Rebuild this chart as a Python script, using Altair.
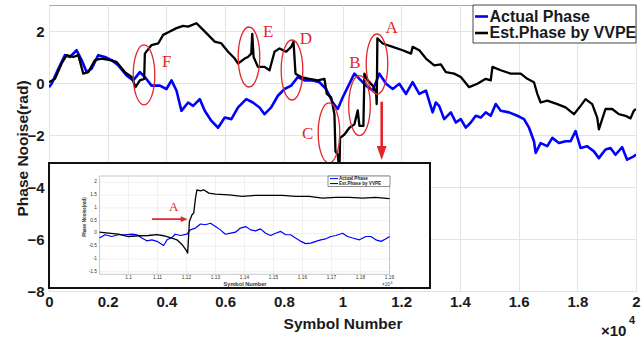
import altair as alt
import pandas as pd

# ---------------- data ----------------
series_names = ["Actual Phase", "Est.Phase by VVPE"]

blue_x = [0, 90, 318, 544, 714, 941, 1111, 1281, 1452, 1678,
          1905, 2132, 2359, 2642, 2869, 3096, 3266, 3493, 3776, 4003,
          4173, 4343, 4513, 4740, 4910, 5137, 5307, 5534, 5761, 5988,
          6214, 6441, 6721, 6948, 7174, 7344, 7571, 7798, 8025, 8252,
          8478, 8705, 8988, 9215, 9442, 9669, 9839, 10009, 10179, 10406,
          10576, 10803, 11030, 11256, 11483, 11710, 11937, 12164, 12390, 12617,
          12844, 13071, 13180, 13294, 13464, 13691, 13861, 14031, 14201, 14371,
          14541, 14711, 14881, 15051, 15221, 15391, 15675, 15958, 16185, 16355,
          16524, 16581, 16751, 16978, 17148, 17374, 17601, 17771, 17941, 18112,
          18338, 18565, 18735, 18961, 19131, 19301, 19528, 19698, 19925, 20000]
blue_y = [-0.16, -0.03, 0.55, 1.07, 1.0, 1.26, 0.88, 0.42, 0.55, 1.07,
          1.0, 0.88, 0.68, 0.29, 0.10, 0.42, 0.23, -0.10, -0.10, -0.23,
          0.10, -0.29, -1.07, -0.75, -0.88, -0.62, -1.07, -1.46, -1.72, -1.33,
          -1.39, -0.94, -0.62, -0.75, -0.94, -1.20, -0.94, -0.49, -0.23, -0.10,
          0.23, 0.10, 0.10, 0.03, -0.23, -0.75, -1.0, -0.55, -0.16, 0.36,
          0.16, -0.10, -0.29, 0.36, -0.03, -0.23, -0.03, -0.42, 0.03, -0.42,
          -0.29, -1.13, -0.75, -0.88, -1.39, -1.13, -1.52, -1.39, -1.72, -1.52,
          -1.26, -1.33, -1.13, -1.26, -0.81, -1.07, -1.13, -1.26, -1.39, -1.72,
          -2.24, -2.69, -2.31, -2.43, -2.11, -2.31, -2.24, -2.24, -1.85, -2.50,
          -2.43, -2.63, -2.89, -2.56, -2.50, -2.76, -2.47, -2.95, -2.82, -2.75]

black_x = [0, 204, 431, 601, 828, 998, 1168, 1338, 1565, 1792,
           2075, 2302, 2586, 2812, 2948, 3096, 3243, 3266, 3493, 3720,
           3890, 4117, 4343, 4570, 4740, 5024, 5194, 5420, 5647, 5874,
           6101, 6328, 6441, 6668, 6778, 6891, 6925, 6971, 7118, 7344,
           7514, 7684, 7854, 8081, 8252, 8331, 8399, 8592, 8875, 9158,
           9385, 9464, 9612, 9725, 9760, 9839, 9896, 9918, 10066, 10236,
           10406, 10519, 10576, 10712, 10746, 10860, 11030, 11143, 11166, 11188,
           11370, 11710, 12050, 12333, 12390, 12617, 12844, 13128, 13351, 13521,
           13804, 14031, 14314, 14597, 14881, 15051, 15108, 15391, 15731, 16071,
           16298, 16524, 16638, 16751, 16978, 17318, 17601, 17885, 18112, 18282,
           18508, 18678, 18735, 18848, 18961, 19188, 19415, 19642, 19812, 19925,
           20000]
black_y = [0.03, 0.16, 0.75, 1.07, 1.0, 1.07, 0.36, 0.42, 0.88, 0.94,
           0.88, 0.81, 0.42, 0.23, -0.16, 0.10, 0.16, 1.13, 1.46, 1.52,
           1.85, 1.98, 2.11, 2.20, 2.17, 2.30, 2.11, 1.85, 1.59, 1.52,
           1.20, 0.94, 0.75, 0.94, 1.0, 1.13, 1.89, 1.0, 0.62, 0.62,
           0.49, 1.20, 1.33, 1.20, 1.39, 1.59, 0.36, 0.23, 0.16, 0.10,
           0.16, -0.42, -0.55, -1.20, -2.63, -2.76, -3.4, -2.11, -1.98, -1.72,
           -1.59, -1.05, -1.65, -1.65, 0.36, 0.10, -0.10, -0.36, -0.81, 1.72,
           1.52, 1.39, 1.26, 1.13, 1.39, 1.26, 0.94, 0.68, 0.72, 0.42,
           0.36, 0.23, -0.16, -0.03, 0.16, 0.10, 0.62, 0.49, 0.36, 0.36,
           0.16, 0.03, -0.42, -0.75, -0.68, -0.81, -0.94, -1.20, -0.88, -0.62,
           -0.81, -1.33, -1.78, -1.39, -1.0, -1.0, -1.20, -1.26, -1.36, -1.07,
           -1.0]

inset_blue_x = [10900, 10919, 10942, 10965, 10988, 11012, 11029, 11046, 11063, 11081,
                11098, 11121, 11133, 11150, 11161, 11179, 11202, 11213, 11231, 11248,
                11265, 11283, 11300, 11317, 11334, 11352, 11369, 11386, 11404, 11421,
                11438, 11455, 11473, 11490, 11507, 11525, 11542, 11559, 11576, 11594,
                11611, 11628, 11646, 11663, 11680, 11698, 11715, 11738, 11755, 11773,
                11796, 11819, 11836, 11853, 11871, 11888, 11900]
inset_blue_y = [-0.18, -0.05, -0.12, -0.05, -0.05, -0.03, -0.05, -0.18, -0.29, -0.25,
                -0.31, -0.47, -0.25, -0.16, -0.03, -0.08, -0.03, 0.14, 0.21, 0.37,
                0.34, 0.40, 0.27, 0.14, -0.03, 0.01, 0.05, 0.21, 0.27, 0.14,
                0.10, 0.18, 0.01, -0.08, 0.01, 0.08, -0.05, -0.05, -0.18, -0.31,
                -0.40, -0.38, -0.31, -0.25, -0.21, -0.12, -0.08, 0.01, -0.12, -0.18,
                -0.25, -0.12, -0.12, -0.25, -0.31, -0.21, -0.12]

inset_black_x = [10900, 10931, 10965, 11000, 11035, 11069, 11098, 11121, 11144, 11167,
                 11185, 11198, 11204, 11210, 11219, 11225, 11231, 11236, 11248, 11259,
                 11277, 11300, 11346, 11392, 11438, 11484, 11530, 11576, 11623, 11669,
                 11715, 11761, 11807, 11853, 11900]
inset_black_y = [0.05, 0.01, -0.03, -0.12, -0.09, -0.08, -0.05, -0.09, -0.16, -0.25,
                 -0.44, -0.64, -0.77, 0.47, 0.73, 0.80, 1.38, 1.71, 1.67, 1.71,
                 1.58, 1.54, 1.51, 1.45, 1.49, 1.49, 1.49, 1.45, 1.45, 1.38,
                 1.41, 1.41, 1.38, 1.41, 1.36]

x_ticks = [0, 2000, 4000, 6000, 8000, 10000, 12000, 14000, 16000, 18000, 20000]
y_ticks = [-8, -6, -4, -2, 0, 2]
inset_x_ticks = [11000, 11100, 11200, 11300, 11400, 11500, 11600, 11700, 11800, 11900]
inset_x_labels = ["1.1", "1.11", "1.12", "1.13", "1.14", "1.15", "1.16", "1.17", "1.18", "1.19"]
inset_y_ticks = [-1.5, -1.0, -0.5, 0.0, 0.5, 1.0, 1.5, 2.0]
inset_y_labels = ["-1.5", "-1", "-0.5", "0", "0.5", "1", "1.5", "2"]

mark_letters = ["A", "B", "C", "D", "E", "F"]
ellipse_x = [11175, 10579, 9540, 8279, 6814, 3237]
ellipse_y = [0.73, -0.87, -1.92, 0.50, 1.00, 0.31]
letter_x = [11676, 10425, 8814, 8756, 7471, 4010]
letter_y = [2.10, 0.78, -1.96, 1.68, 1.95, 0.82]

arrow_x = [11335]
arrow_top = [-0.72]
arrow_head = [-2.69]

inset_arrow_x = [11081]
inset_arrow_x2 = [11192]
inset_arrow_y = [0.56]
inset_letter = ["A"]
inset_letter_x = [11156]
inset_letter_y = [1.03]

# ---------------- styling ----------------
W, H = 587, 286
SANS = "Liberation Sans"
SERIF = "Liberation Serif"
RED = "#e3262b"
BLUE = "#0000ff"
TXT = "#1a1a1a"

one = pd.DataFrame({"a": [0]})

def sdf(xv, yv):
    return pd.DataFrame({"x": xv, "y": yv, "i": list(range(len(xv)))})

K = 0.5523
def ellipse_path(a):
    return (f"M 0 -1 C {a*K:.3f} -1 {a:.3f} {-K:.3f} {a:.3f} 0 "
            f"C {a:.3f} {K:.3f} {a*K:.3f} 1 0 1 "
            f"C {-a*K:.3f} 1 {-a:.3f} {K:.3f} {-a:.3f} 0 "
            f"C {-a:.3f} {-K:.3f} {-a*K:.3f} -1 0 -1 Z")

HEAD_DOWN = "M -0.7 -1 L 0.7 -1 L 0 1 Z"
HEAD_RIGHT = "M -1 -0.85 L -1 0.85 L 1 0 Z"

xs = alt.Scale(domain=[0, 20000], nice=False, zero=False)
ys = alt.Scale(domain=[-8, 3], nice=False, zero=False)

X_AXIS = alt.Axis(values=x_ticks, labelExpr="'' + datum.value / 10000", title="Symbol Number",
                  grid=True, gridColor="#e4e4e4", domain=False, ticks=False,
                  labelFont=SANS, labelFontSize=15, labelFontWeight="bold", labelColor=TXT,
                  labelPadding=3, labelFlush=False,
                  titleFont=SANS, titleFontSize=15.5, titleFontWeight="bold", titleColor=TXT,
                  titleBaseline="middle", titleX=W / 2, titleY=32)
Y_AXIS = alt.Axis(values=y_ticks, title="Phase Nooise(rad)",
                  grid=True, gridColor="#e4e4e4", domain=False, ticks=False,
                  labelFont=SANS, labelFontSize=15, labelFontWeight="bold", labelColor=TXT,
                  labelPadding=5, labelFlush=False,
                  titleFont=SANS, titleFontSize=15.5, titleFontWeight="bold", titleColor=TXT,
                  titleAngle=270, titleBaseline="middle", titleAlign="center",
                  titleX=-27, titleY=H / 2)

def mx(f="x"):
    return alt.X(f"{f}:Q", scale=xs, axis=X_AXIS)

def my(f="y"):
    return alt.Y(f"{f}:Q", scale=ys, axis=Y_AXIS)

# ---------------- main layers ----------------
blue_line = alt.Chart(sdf(blue_x, blue_y)).mark_line(
    color=BLUE, strokeWidth=2.6, clip=True, strokeJoin="round").encode(
    x=mx(), y=my(), order="i:Q")
black_line = alt.Chart(sdf(black_x, black_y)).mark_line(
    color="black", strokeWidth=2.3, clip=True, strokeJoin="round").encode(
    x=mx(), y=my(), order="i:Q")

ellipses = alt.Chart(pd.DataFrame({"x": ellipse_x, "y": ellipse_y})).mark_point(
    shape=ellipse_path(0.36), size=3600, filled=False, stroke=RED, strokeWidth=1.3,
    opacity=1).encode(x=mx(), y=my())
letters = alt.Chart(pd.DataFrame({"x": letter_x, "y": letter_y, "t": mark_letters})).mark_text(
    font=SERIF, fontSize=17, color=RED, baseline="middle").encode(x=mx(), y=my(), text="t:N")

arrow_shaft = alt.Chart(pd.DataFrame({"x": arrow_x, "y": arrow_top, "y2": arrow_head})).mark_rule(
    color=RED, strokeWidth=2.6).encode(x=mx(), y=my(), y2="y2:Q")
arrow_tip = alt.Chart(pd.DataFrame({"x": arrow_x, "y": arrow_head})).mark_point(
    shape=HEAD_DOWN, size=196, filled=True, color=RED, opacity=1).encode(x=mx(), y=my())

leg_box = alt.Chart(one).mark_rect(fill="white", stroke="#333333", strokeWidth=0.9).encode(
    x=alt.value(424), x2=alt.value(587), y=alt.value(0), y2=alt.value(38))
leg_b = alt.Chart(one).mark_rule(color=BLUE, strokeWidth=2.6).encode(
    x=alt.value(426), x2=alt.value(439), y=alt.value(11.5))
leg_k = alt.Chart(one).mark_rule(color="black", strokeWidth=2.6).encode(
    x=alt.value(426), x2=alt.value(439), y=alt.value(28))
leg_t1 = alt.Chart(one).mark_text(align="left", baseline="middle", font=SANS, fontSize=16,
                                  fontWeight="bold", color=TXT).encode(
    x=alt.value(440.5), y=alt.value(11.5), text=alt.value(series_names[0]))
leg_t2 = alt.Chart(one).mark_text(align="left", baseline="middle", font=SANS, fontSize=16,
                                  fontWeight="bold", color=TXT).encode(
    x=alt.value(440.5), y=alt.value(28), text=alt.value(series_names[1]))

exp_base = alt.Chart(one).mark_text(align="left", baseline="middle", font=SANS, fontSize=15,
                                    fontWeight="bold", color=TXT).encode(
    x=alt.value(552), y=alt.value(326), text=alt.value("×10"))
exp_sup = alt.Chart(one).mark_text(align="left", baseline="middle", font=SANS, fontSize=11,
                                   fontWeight="bold", color=TXT).encode(
    x=alt.value(580), y=alt.value(316), text=alt.value("4"))

main = alt.layer(blue_line, black_line, ellipses, letters, arrow_shaft, arrow_tip,
                 leg_box, leg_b, leg_k, leg_t1, leg_t2, exp_base, exp_sup)

# ---------------- inset layers ----------------
ixs = alt.Scale(domain=[10900, 11900], range=[50.5, 340.5], nice=False, zero=False)
iys = alt.Scale(domain=[-1.6, 2.25], range=[269.3, 171.0], nice=False, zero=False)

def ix(f="x"):
    return alt.X(f"{f}:Q", scale=ixs, axis=None)

def iy(f="y"):
    return alt.Y(f"{f}:Q", scale=iys, axis=None)

in_box = alt.Chart(one).mark_rect(fill="white", stroke="#111111", strokeWidth=2).encode(
    x=alt.value(0), x2=alt.value(381), y=alt.value(158), y2=alt.value(283))

in_xgrid = alt.Chart(pd.DataFrame({"x": inset_x_ticks, "y": -1.6, "y2": 2.25})).mark_rule(
    color="#e6e6e6", strokeWidth=0.6).encode(x=ix(), y=iy(), y2="y2:Q")
in_ygrid = alt.Chart(pd.DataFrame({"y": inset_y_ticks, "x": 10900, "x2": 11900})).mark_rule(
    color="#e6e6e6", strokeWidth=0.6).encode(y=iy(), x=ix(), x2="x2:Q")
in_frame = alt.Chart(pd.DataFrame({"x": [10900], "x2": [11900], "y": [-1.6], "y2": [2.25]})).mark_rect(
    fillOpacity=0, stroke="#b0b0b0", strokeWidth=0.7).encode(x=ix(), x2="x2:Q", y=iy(), y2="y2:Q")

in_blue = alt.Chart(sdf(inset_blue_x, inset_blue_y)).mark_line(
    color=BLUE, strokeWidth=1.2, strokeJoin="round").encode(x=ix(), y=iy(), order="i:Q")
in_black = alt.Chart(sdf(inset_black_x, inset_black_y)).mark_line(
    color="black", strokeWidth=1.3, strokeJoin="round").encode(x=ix(), y=iy(), order="i:Q")

in_xlab = alt.Chart(pd.DataFrame({"x": inset_x_ticks, "t": inset_x_labels})).mark_text(
    font=SANS, fontSize=4.8, color="#333333", baseline="middle").encode(
    x=ix(), y=alt.value(272.7), text="t:N")
in_ylab = alt.Chart(pd.DataFrame({"y": inset_y_ticks, "t": inset_y_labels})).mark_text(
    font=SANS, fontSize=4.8, color="#333333", align="right", baseline="middle").encode(
    y=iy(), x=alt.value(48), text="t:N")

in_xtitle = alt.Chart(one).mark_text(font=SANS, fontSize=5.6, fontWeight="bold", color="#333333",
                                     baseline="middle").encode(
    x=alt.value(196), y=alt.value(278.5), text=alt.value("Symbol Number"))
in_ytitle = alt.Chart(one).mark_text(font=SANS, fontSize=4.5, fontWeight="bold", color="#333333",
                                     baseline="middle", angle=270).encode(
    x=alt.value(36), y=alt.value(212), text=alt.value("Phase Nooise(rad)"))
in_exp = alt.Chart(one).mark_text(font=SANS, fontSize=4.5, color="#333333", align="left",
                                  baseline="middle").encode(
    x=alt.value(333), y=alt.value(279.5), text=alt.value("×10"))
in_exp4 = alt.Chart(one).mark_text(font=SANS, fontSize=3.5, color="#333333", align="left",
                                   baseline="middle").encode(
    x=alt.value(341.5), y=alt.value(277.5), text=alt.value("4"))

in_leg_box = alt.Chart(one).mark_rect(fill="white", stroke="#444444", strokeWidth=0.6).encode(
    x=alt.value(279), x2=alt.value(341), y=alt.value(171), y2=alt.value(181.5))
in_leg_b = alt.Chart(one).mark_rule(color=BLUE, strokeWidth=1).encode(
    x=alt.value(281), x2=alt.value(289), y=alt.value(173.6))
in_leg_k = alt.Chart(one).mark_rule(color="black", strokeWidth=1).encode(
    x=alt.value(281), x2=alt.value(289), y=alt.value(178.6))
in_leg_t1 = alt.Chart(one).mark_text(align="left", baseline="middle", font=SANS, fontSize=4.6,
                                     fontWeight="bold", color="#222222").encode(
    x=alt.value(290), y=alt.value(173.6), text=alt.value(series_names[0]))
in_leg_t2 = alt.Chart(one).mark_text(align="left", baseline="middle", font=SANS, fontSize=4.6,
                                     fontWeight="bold", color="#222222").encode(
    x=alt.value(290), y=alt.value(178.6), text=alt.value(series_names[1]))

in_arrow = alt.Chart(pd.DataFrame({"x": inset_arrow_x, "x2": inset_arrow_x2, "y": inset_arrow_y})).mark_rule(
    color=RED, strokeWidth=1.6).encode(x=ix(), x2="x2:Q", y=iy())
in_arrow_tip = alt.Chart(pd.DataFrame({"x": inset_arrow_x2, "y": inset_arrow_y})).mark_point(
    shape=HEAD_RIGHT, size=49, filled=True, color=RED, opacity=1).encode(x=ix(), y=iy())
in_letter = alt.Chart(pd.DataFrame({"x": inset_letter_x, "y": inset_letter_y, "t": inset_letter})).mark_text(
    font=SERIF, fontSize=13, color=RED, baseline="middle").encode(x=ix(), y=iy(), text="t:N")

inset = alt.layer(in_box, in_xgrid, in_ygrid, in_frame, in_blue, in_black,
                  in_xlab, in_ylab, in_xtitle, in_ytitle, in_exp, in_exp4,
                  in_leg_box, in_leg_b, in_leg_k, in_leg_t1, in_leg_t2,
                  in_arrow, in_arrow_tip, in_letter)

chart = alt.layer(main, inset).resolve_scale(x="independent", y="independent").properties(
    width=W, height=H,
    padding={"left": 49, "top": 5, "right": 6, "bottom": 48},
    autosize=alt.AutoSizeParams(type="none"),
    background="white",
).configure_view(stroke="#a8a8a8", strokeWidth=1)

chart.save("out.html", embed_options={"renderer": "svg", "actions": False})
